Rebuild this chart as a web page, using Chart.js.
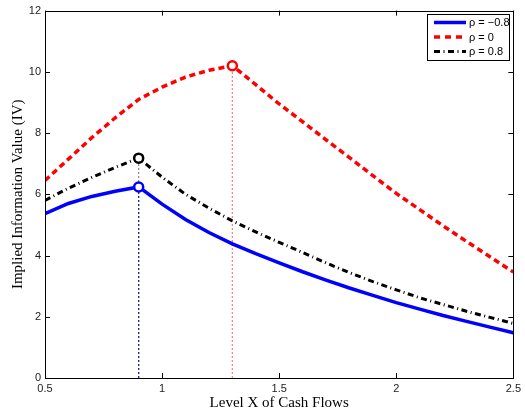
<!DOCTYPE html>
<html>
<head>
<meta charset="utf-8">
<script src="https://cdn.jsdelivr.net/npm/chart.js@4/dist/chart.umd.min.js"></script>
<style>
  html, body { margin: 0; padding: 0; background: #fff; }
  canvas { display: block; }
</style>
</head>
<body>
<canvas id="ivChart" width="525" height="414"></canvas>
<script>
// x values (level X of cash flows)
const levelX = [0.5, 0.6, 0.7, 0.8, 0.9, 1.0, 1.1, 1.2, 1.3, 1.4, 1.5,
                1.6, 1.7, 1.8, 1.9, 2.0, 2.1, 2.2, 2.3, 2.4, 2.5];

// implied information value per rho
const ivRhoNeg = [5.37, 5.70, 5.93, 6.10, 6.24, 5.68, 5.18, 4.75, 4.38, 4.06, 3.76,
                  3.47, 3.20, 2.94, 2.70, 2.46, 2.25, 2.04, 1.85, 1.66, 1.48];
const ivRhoZero = [6.45, 7.15, 7.85, 8.50, 9.10, 9.50, 9.83, 10.05, 10.20, 9.58, 8.95,
                   8.37, 7.78, 7.20, 6.61, 6.03, 5.50, 4.97, 4.46, 3.96, 3.46];
const ivRhoPos = [5.80, 6.20, 6.55, 6.88, 7.18, 6.56, 6.00, 5.55, 5.13, 4.77, 4.43,
                  4.10, 3.76, 3.44, 3.15, 2.88, 2.62, 2.40, 2.18, 1.98, 1.78];

const seriesNames = ['ρ = −0.8', 'ρ = 0', 'ρ = 0.8'];
const xTicks = [0.5, 1, 1.5, 2, 2.5];
const yTicks = [0, 2, 4, 6, 8, 10, 12];

function toPoints(ys) {
  return ys.map((y, i) => ({ x: levelX[i], y: y }));
}
function peakOf(ys) {
  const i = ys.indexOf(Math.max(...ys));
  return { x: levelX[i], y: ys[i] };
}

const pNeg = peakOf(ivRhoNeg);
const pZero = peakOf(ivRhoZero);
const pPos = peakOf(ivRhoPos);

const styles = [
  { color: '#0000ff', dash: [], width: 3.5 },
  { color: '#ff0000', dash: [6, 4], width: 3.5 },
  { color: '#000000', dash: [6, 3.5, 1, 3.5], width: 3 }
];

function marker(p, color) {
  return {
    data: [p], showLine: false, pointRadius: 4.5, pointBorderWidth: 2.5,
    pointBorderColor: color, pointBackgroundColor: '#fff'
  };
}
function curve(ys, s) {
  return {
    data: toPoints(ys), borderColor: s.color, borderWidth: s.width,
    borderDash: s.dash, pointRadius: 0, tension: 0, fill: false
  };
}
function dropLine(p, color) {
  return {
    data: [{ x: p.x, y: 0 }, p], borderColor: color, borderWidth: 1.2,
    borderDash: [2, 2], pointRadius: 0, fill: false
  };
}

// own legend + inward ticks + box
const matlabLook = {
  id: 'matlabLook',
  afterDraw(chart) {
    const ctx = chart.ctx;
    const a = chart.chartArea;
    const xs = chart.scales.x, ys = chart.scales.y;
    ctx.save();
    ctx.strokeStyle = '#000';
    ctx.lineWidth = 1;
    ctx.setLineDash([]);
    ctx.strokeRect(Math.round(a.left) + 0.5, Math.round(a.top) + 0.5,
                   Math.round(a.right - a.left), Math.round(a.bottom - a.top));
    ctx.beginPath();
    xTicks.forEach(v => {
      const px = Math.round(xs.getPixelForValue(v)) + 0.5;
      ctx.moveTo(px, a.bottom); ctx.lineTo(px, a.bottom - 5);
      ctx.moveTo(px, a.top); ctx.lineTo(px, a.top + 5);
    });
    yTicks.forEach(v => {
      const py = Math.round(ys.getPixelForValue(v)) + 0.5;
      ctx.moveTo(a.left, py); ctx.lineTo(a.left + 5, py);
      ctx.moveTo(a.right, py); ctx.lineTo(a.right - 5, py);
    });
    ctx.stroke();

    // legend
    const bx = 427.5, by = 14.5, bw = 82, bh = 46;
    ctx.fillStyle = '#fff';
    ctx.fillRect(bx, by, bw, bh);
    ctx.strokeRect(bx, by, bw, bh);
    const rows = [22.5, 37, 51.5];
    ctx.font = '11px "Liberation Sans", Arial, sans-serif';
    ctx.textBaseline = 'middle';
    ctx.textAlign = 'left';
    seriesNames.forEach((name, i) => {
      const s = styles[i];
      ctx.beginPath();
      ctx.strokeStyle = s.color;
      ctx.lineWidth = s.width;
      ctx.setLineDash(i === 1 ? [6, 5] : s.dash);
      ctx.moveTo(434, rows[i]);
      ctx.lineTo(466, rows[i]);
      ctx.stroke();
      ctx.setLineDash([]);
      ctx.fillStyle = '#000';
      ctx.fillText(name, 469, rows[i] + 0.5);
    });
    ctx.restore();
  }
};

const ctx = document.getElementById('ivChart').getContext('2d');
window.myChart = new Chart(ctx, {
  type: 'line',
  data: {
    datasets: [
      marker(pNeg, '#0000ff'),
      marker(pZero, '#ff0000'),
      marker(pPos, '#000000'),
      curve(ivRhoPos, styles[2]),
      curve(ivRhoZero, styles[1]),
      curve(ivRhoNeg, styles[0]),
      dropLine(pNeg, 'rgba(0,0,140,0.8)'),
      dropLine(pPos, 'rgba(60,60,60,0.6)'),
      dropLine(pZero, 'rgba(255,90,90,0.8)')
    ]
  },
  options: {
    responsive: false,
    animation: false,
    layout: { padding: { top: 6, right: 9, left: 0, bottom: 0 } },
    plugins: {
      legend: { display: false },
      tooltip: { enabled: false }
    },
    scales: {
      x: {
        type: 'linear', min: 0.5, max: 2.5,
        afterFit: s => { s.height = 36; },
        grid: { display: false, drawTicks: false },
        border: { display: false },
        ticks: {
          stepSize: 0.5, maxRotation: 0, autoSkip: false, padding: 4,
          callback: v => String(v),
          color: '#222', font: { family: '"Liberation Sans", Arial, sans-serif', size: 11 }
        },
        title: {
          display: true, text: 'Level X of Cash Flows', color: '#000',
          padding: { top: 0, bottom: 2 },
          font: { family: '"Liberation Serif", "Times New Roman", serif', size: 15 }
        }
      },
      y: {
        min: 0, max: 12,
        afterFit: s => { s.width = 45; },
        grid: { display: false, drawTicks: false },
        border: { display: false },
        ticks: {
          stepSize: 2, padding: 4,
          color: '#222', font: { family: '"Liberation Sans", Arial, sans-serif', size: 11 }
        },
        title: {
          display: true, text: 'Implied Information Value (IV)', color: '#000',
          padding: { top: 9, bottom: 0 },
          font: { family: '"Liberation Serif", "Times New Roman", serif', size: 15 }
        }
      }
    }
  },
  plugins: [matlabLook]
});
</script>
</body>
</html>
